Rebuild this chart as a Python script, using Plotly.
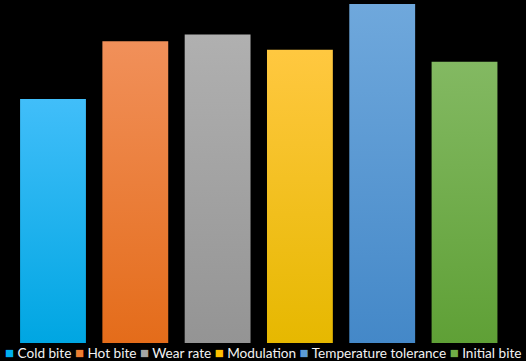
import plotly.graph_objects as go

categories = ["Cold bite", "Hot bite", "Wear rate", "Modulation", "Temperature tolerance", "Initial bite"]
values = [7.2, 8.9, 9.1, 8.65, 10.0, 8.3]
base_colors = ["#00B0F0", "#ED7D31", "#A5A5A5", "#FFC000", "#5B9BD5", "#70AD47"]
top_colors = ["#41BEF9", "#F1905A", "#B0B0B0", "#FFC840", "#6FA8DC", "#83B962"]
bottom_colors = ["#00A6E2", "#E46C1A", "#949494", "#E6B800", "#4488C8", "#5FA036"]

bar_width = 0.8

fig = go.Figure()
for i, (cat, v) in enumerate(zip(categories, values)):
    x0, x1 = i - bar_width / 2, i + bar_width / 2
    fig.add_trace(go.Scatter(
        x=[x0, x1, x1, x0, x0],
        y=[0, 0, v, v, 0],
        mode="lines",
        line=dict(width=0),
        fill="toself",
        fillgradient=dict(type="vertical",
                          colorscale=[[0, bottom_colors[i]], [1, top_colors[i]]]),
        name=cat,
        hoverinfo="name+y",
        showlegend=False,
    ))

legend_text = "&nbsp;".join(
    f"<span style='color:{c};font-size:15px'>■</span>&nbsp;{cat}"
    for cat, c in zip(categories, base_colors)
)

fig.update_layout(
    width=526, height=361,
    margin=dict(l=0, r=0, t=4, b=18),
    paper_bgcolor="black", plot_bgcolor="black",
    xaxis=dict(range=[-0.644, 5.747], visible=False, fixedrange=True),
    yaxis=dict(range=[0, 10], visible=False, fixedrange=True),
    annotations=[dict(
        text=legend_text, xref="paper", yref="paper", x=0.5, y=-0.0265,
        xanchor="center", yanchor="middle", showarrow=False,
        font=dict(family="Lato", size=13.6, color="#F2F2F2"),
    )],
    showlegend=False,
)

fig.write_html("out.html")
